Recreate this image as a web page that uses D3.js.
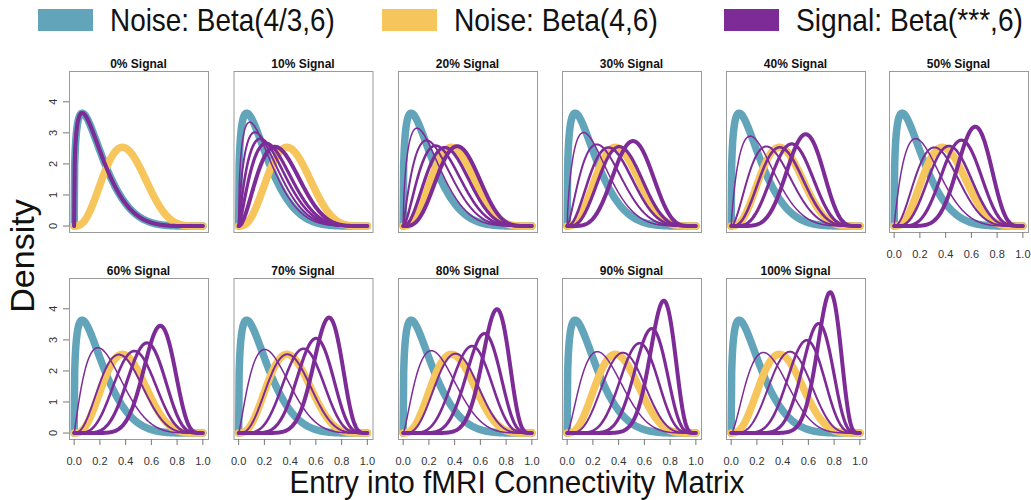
<!DOCTYPE html>
<html>
<head>
<meta charset="utf-8">
<script src="https://cdn.jsdelivr.net/npm/d3@7"></script>
<style>
  body { margin: 0; background: #fff; }
  svg { display: block; font-family: "Liberation Sans", Arial, sans-serif; }
  .box { fill: none; stroke: #9a9a9a; stroke-width: 1; }
  .tick-mark { stroke: #777; stroke-width: 1; }
  .tick-label { font-size: 11px; fill: #333; }
  .title { font-size: 12px; font-weight: bold; fill: #111; }
</style>
</head>
<body>
<svg width="1031" height="500"></svg>
<script>
// panels and shapes
var panelLabels = ["0% Signal", "10% Signal", "20% Signal", "30% Signal", "40% Signal", "50% Signal",
                   "60% Signal", "70% Signal", "80% Signal", "90% Signal", "100% Signal"];
var betaB = 6;
var noiseBlueA = 4 / 3;
var noiseYellowA = 4;
// first shape parameter of the 5 signal curves in each panel (thin -> thick)
var signalShapes = [
  [1.33, 1.33, 1.33, 1.33, 1.33],
  [1.47, 1.72, 2.01, 2.36, 2.97],
  [1.60, 2.11, 2.69, 3.39, 4.61],
  [1.73, 2.49, 3.36, 4.41, 6.24],
  [1.87, 2.88, 4.04, 5.44, 7.88],
  [2.00, 3.27, 4.72, 6.47, 9.52],
  [2.13, 3.66, 5.39, 7.50, 11.15],
  [2.27, 4.04, 6.07, 8.52, 12.79],
  [2.40, 4.43, 6.75, 9.55, 14.43],
  [2.53, 4.82, 7.43, 10.58, 16.07],
  [2.67, 5.20, 8.10, 11.60, 17.70]
];
var yTicks = [0, 1, 2, 3, 4];
var xTicks = [0, 0.2, 0.4, 0.6, 0.8, 1.0];
var legendLabels = ["Noise: Beta(4/3,6)", "Noise: Beta(4,6)", "Signal: Beta(***,6)"];

var blue = "#62a4ba", yellow = "#f6c55c", purple = "#7d2b97";
var signalWidths = [1.5, 2, 2.6, 3.2, 4];

var boxW = 139, boxH = 161;
var colX = [69, 233.5, 398, 562, 726, 889];
var rowY = [71, 278];

var svg = d3.select("svg");

// lanczos log-gamma
function lgamma(z) {
  var g = 7;
  var c = [0.99999999999980993, 676.5203681218851, -1259.1392167224028,
    771.32342877765313, -176.61563921622134, 12.507343278686905,
    -0.13857109526572012, 9.9843695780195716e-6, 1.5056327351493116e-7];
  z -= 1;
  var a = c[0];
  var t = z + g + 0.5;
  for (var i = 1; i < g + 2; i++) a += c[i] / (z + i);
  return 0.5 * Math.log(2 * Math.PI) + (z + 0.5) * Math.log(t) - t + Math.log(a);
}

function betaPdf(x, a, b) {
  if (x <= 0 || x >= 1) return 0;
  var lb = lgamma(a + b) - lgamma(a) - lgamma(b);
  return Math.exp(lb + (a - 1) * Math.log(x) + (b - 1) * Math.log(1 - x));
}

var xs = d3.range(0, 1.0001, 0.004);

var x = d3.scaleLinear().domain([-0.04, 1.04]).range([0, boxW]);
var y = d3.scaleLinear().domain([-0.192, 4.992]).range([boxH, 0]);

var line = d3.line()
    .x(function(d) { return x(d[0]); })
    .y(function(d) { return y(d[1]); });

function curve(a) {
  return xs.map(function(v) { return [v, betaPdf(v, a, betaB)]; });
}

panelLabels.forEach(function(label, i) {
  var row = i < 6 ? 0 : 1,
      col = i < 6 ? i : i - 6;
  var g = svg.append("g")
      .attr("transform", "translate(" + colX[col] + "," + rowY[row] + ")");

  g.append("rect")
      .attr("class", "box")
      .attr("x", 0.5).attr("y", 0.5)
      .attr("width", boxW).attr("height", boxH);

  g.append("text")
      .attr("class", "title")
      .attr("x", boxW / 2)
      .attr("y", -3)
      .attr("text-anchor", "middle")
      .text(label);

  var plot = g.append("g");

  plot.append("path")
      .attr("d", line(curve(noiseBlueA)))
      .style("fill", "none")
      .style("stroke", blue)
      .style("stroke-width", 7.5)
      .style("stroke-linecap", "round")
      .style("stroke-linejoin", "round");

  plot.append("path")
      .attr("d", line(curve(noiseYellowA)))
      .style("fill", "none")
      .style("stroke", yellow)
      .style("stroke-width", 7.5)
      .style("stroke-linecap", "round")
      .style("stroke-linejoin", "round");

  signalShapes[i].forEach(function(a, k) {
    plot.append("path")
        .attr("d", line(curve(a)))
        .style("fill", "none")
        .style("stroke", purple)
        .style("stroke-width", signalWidths[k])
        .style("stroke-linecap", "round")
        .style("stroke-linejoin", "round");
  });

  // y axis on first column
  if (col === 0) {
    yTicks.forEach(function(t) {
      g.append("line")
          .attr("class", "tick-mark")
          .attr("x1", -6).attr("x2", 0)
          .attr("y1", y(t)).attr("y2", y(t));
      g.append("text")
          .attr("class", "tick-label")
          .attr("transform", "translate(-12," + y(t) + ") rotate(-90)")
          .attr("text-anchor", "middle")
          .text(t);
    });
  }

  // x axis on bottom row and on the 50% panel
  if (row === 1 || i === 5) {
    xTicks.forEach(function(t) {
      g.append("line")
          .attr("class", "tick-mark")
          .attr("x1", x(t)).attr("x2", x(t))
          .attr("y1", boxH).attr("y2", boxH + 6);
      g.append("text")
          .attr("class", "tick-label")
          .attr("x", x(t))
          .attr("y", boxH + 26)
          .attr("text-anchor", "middle")
          .text(d3.format(".1f")(t));
    });
  }
});

// squeeze a text horizontally so it spans w pixels (the original type is condensed)
function squeeze(sel, x0, y0, w) {
  var len = sel.node().getComputedTextLength();
  sel.attr("transform", "translate(" + x0 + "," + y0 + ") scale(" + (w / len) + ",1)");
}

// legend
var legendColors = [blue, yellow, purple];
var swatchX = [38, 382, 724];
var textW = [225, 204, 227];
legendLabels.forEach(function(l, i) {
  svg.append("rect")
      .attr("x", swatchX[i]).attr("y", 9)
      .attr("width", 55).attr("height", 22)
      .style("fill", legendColors[i]);
  var t = svg.append("text")
      .style("font-size", "31px")
      .style("fill", "#111")
      .text(l);
  squeeze(t, swatchX[i] + 72, 31, textW[i]);
});

// axis titles
svg.append("text")
    .attr("transform", "translate(34,256) rotate(-90)")
    .attr("text-anchor", "middle")
    .style("font-size", "34px")
    .style("fill", "#111")
    .text("Density");

var xt = svg.append("text")
    .attr("text-anchor", "middle")
    .style("font-size", "31px")
    .style("fill", "#111")
    .text("Entry into fMRI Connectivity Matrix");
squeeze(xt, 517, 493, 455);
</script>
</body>
</html>
